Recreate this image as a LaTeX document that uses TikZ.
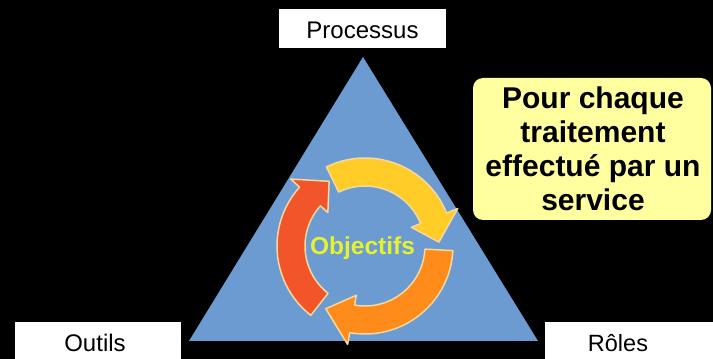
\documentclass[tikz,border=0pt]{standalone}
\usepackage{fontspec}
\setmainfont{Liberation Sans}
\definecolor{tri}{RGB}{108,155,210}
\definecolor{boxy}{RGB}{255,255,160}
\definecolor{ayel}{RGB}{255,204,40}
\definecolor{aora}{RGB}{255,140,26}
\definecolor{ared}{RGB}{242,85,42}
\definecolor{rim}{RGB}{245,215,160}
\definecolor{obj}{RGB}{228,242,50}
\tikzset{
  labelbox/.style={fill=white,draw=none},
  labeltext/.style={font=\fontsize{24}{28}\selectfont,text=black,anchor=base,inner sep=0pt},
  cyclearrow/.style={draw=rim,line width=1.5pt,line join=round}
}
\newcommand{\cyclearc}[4]{% color, a1, ah, a2
  \filldraw[cyclearrow,fill=#1] (#2:88) arc[start angle=#2,end angle=#3,radius=88]
    -- (#3:100) -- (#4:74) -- (#3:50) -- (#3:60)
    arc[start angle=#3,end angle=#2,radius=60] -- cycle;}
\begin{document}
\begin{tikzpicture}[x=1pt,y=1pt]
\fill[black] (0,0) rectangle (713,359);
\useasboundingbox (0,0) rectangle (713,359);
% label boxes
\fill[labelbox] (279,311) rectangle (446,350);
\fill[labelbox] (15,0) rectangle (181,37);
\fill[labelbox] (545,0) rectangle (713,37);
\node[labeltext] (proc) at (362.5,320) {Processus};
\node[labeltext] (outils) at (95,7) {Outils};
\node[labeltext,font=\fontsize{23.5}{28}\selectfont] (roles) at (618,7) {Rôles};
% triangle
\fill[tri] (363,302) -- (189,18) -- (538,18) -- cycle;
% cycle arrows
\begin{scope}[shift={(365,113)}]
\cyclearc{ared}{232}{138}{119}
\cyclearc{aora}{-3}{-100}{-122}
\cyclearc{ayel}{116}{22}{3}
\end{scope}
\node[font=\bfseries\fontsize{24.5}{28}\selectfont,text=obj,anchor=base,inner sep=0pt] (objectifs) at (362.5,104) {Objectifs};
% yellow note
\fill[boxy,rounded corners=10pt] (473,139) rectangle (711,281);
\node[font=\bfseries\fontsize{30}{34}\selectfont,align=center,inner sep=0pt] (note) at (593,210)
  {Pour chaque\\traitement\\effectué par un\\service};
\end{tikzpicture}
\end{document}
